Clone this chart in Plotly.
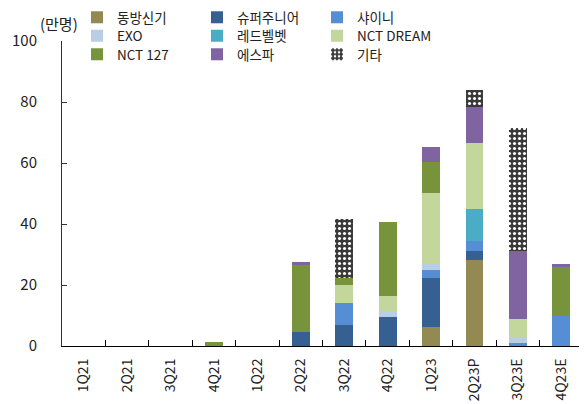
import plotly.graph_objects as go

categories = ["1Q21", "2Q21", "3Q21", "4Q21", "1Q22", "2Q22", "3Q22", "4Q22",
              "1Q23", "2Q23P", "3Q23E", "4Q23E"]

tvxq = [0, 0, 0, 0, 0, 0, 0, 0, 6.3, 28.1, 0, 0]
super_junior = [0, 0, 0, 0, 0, 4.5, 6.9, 9.6, 16.0, 3.1, 0, 0]
shinee = [0, 0, 0, 0, 0, 0, 7.1, 0, 2.6, 3.2, 0.9, 10.0]
exo = [0, 0, 0, 0, 0, 0, 0, 1.9, 1.9, 0, 2.1, 0]
red_velvet = [0, 0, 0, 0, 0, 0, 0, 0, 0, 10.5, 0, 0]
nct_dream = [0, 0, 0, 0, 0, 0, 6.0, 5.0, 23.3, 21.5, 5.7, 0]
nct_127 = [0, 0, 0, 1.4, 0, 22.1, 2.4, 24.3, 10.1, 0, 0, 16.0]
aespa = [0, 0, 0, 0, 0, 0.9, 0, 0, 4.9, 11.9, 22.4, 1.0]
others = [0, 0, 0, 0, 0, 0, 19.3, 0, 0, 5.6, 40.3, 0]

series = [
    ("동방신기", tvxq, "#938953"),
    ("슈퍼주니어", super_junior, "#366092"),
    ("샤이니", shinee, "#558ED5"),
    ("EXO", exo, "#B9CDE5"),
    ("레드벨벳", red_velvet, "#4BACC6"),
    ("NCT DREAM", nct_dream, "#C3D69B"),
    ("NCT 127", nct_127, "#77933C"),
    ("에스파", aespa, "#8064A2"),
    ("기타", others, "#404040"),
]

FONT = "Noto Sans CJK KR"
TXT = "#222222"
W, H = 579, 396          # page body has an 8px margin
L, R, T, B = 54, 4, 33, 58
PW, PH = W - L - R, H - T - B

fig = go.Figure()
legends = {}
for i, (name, vals, color) in enumerate(series):
    marker = dict(color=color, line=dict(width=0))
    if name == "기타":
        marker["pattern"] = dict(shape=".", fgcolor="white", bgcolor="#3a3a3a",
                                 fillmode="replace", size=5, solidity=0.3)
    key = "legend" if i == 0 else "legend%d" % (i + 1)
    fig.add_trace(go.Bar(x=categories, y=vals, name=name, marker=marker,
                         width=0.41, legend=key, showlegend=True))
    col, row = i % 3, i // 3
    legends[key] = dict(x=(69 + 120 * col - L) / PW,
                        y=1 + (T - (9.5 + 18.5 * row)) / PH,
                        xref="paper", yref="paper",
                        xanchor="left", yanchor="middle",
                        font=dict(family=FONT, size=13.5, color=TXT),
                        bgcolor="rgba(0,0,0,0)", itemwidth=30)

fig.update_layout(
    width=W, height=H,
    barmode="stack",
    showlegend=True,
    paper_bgcolor="white", plot_bgcolor="white",
    margin=dict(l=L, r=R, t=T, b=B, autoexpand=False),
    font=dict(family=FONT, size=14, color=TXT),
    xaxis=dict(
        type="category", showline=True, linecolor="#000000", linewidth=1,
        ticks="inside", ticklen=6, tickcolor="#000000", tickson="boundaries",
        tickangle=-90, tickfont=dict(family=FONT, size=14, color=TXT),
        ticklabelstandoff=6, showgrid=False, zeroline=False,
    ),
    yaxis=dict(
        range=[0, 100], tickvals=[0, 20, 40, 60, 80, 100],
        showline=True, linecolor="#333333", linewidth=1,
        ticks="inside", ticklen=5, tickcolor="#333333",
        tickfont=dict(family=FONT, size=15, color=TXT),
        ticklabelstandoff=21, showgrid=False, zeroline=False,
    ),
)
fig.update_layout(**legends)

fig.add_annotation(text="(만명)", xref="paper", yref="paper",
                   x=(51 - L) / PW, y=1 + (T - 15) / PH,
                   xanchor="center", yanchor="middle", showarrow=False,
                   font=dict(family=FONT, size=15, color=TXT))

fig.write_html("out.html")
